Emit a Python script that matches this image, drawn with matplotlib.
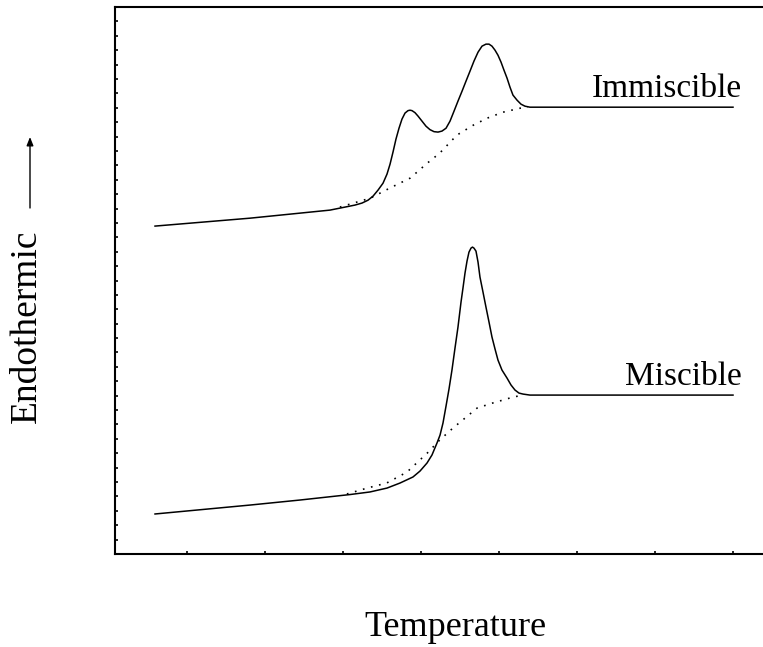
import matplotlib
matplotlib.use("Agg")
import matplotlib.pyplot as plt
import matplotlib.ticker as mpl_ticker
from matplotlib.patches import FancyArrowPatch

# DSC traces (arbitrary temperature / heat-flow units)
immiscible_t = [0.590, 1.808, 2.833, 3.026, 3.154, 3.244, 3.321, 3.385, 3.449, 3.513,
                3.564, 3.603, 3.641, 3.679, 3.718, 3.756, 3.795, 3.833, 3.859, 3.885,
                3.923, 3.962, 4.013, 4.064, 4.115, 4.167, 4.218, 4.269, 4.321, 4.372,
                4.423, 4.474, 4.526, 4.577, 4.628, 4.679, 4.731, 4.782, 4.833, 4.872,
                4.910, 4.949, 4.987, 5.026, 5.064, 5.103, 5.141, 5.179, 5.231, 5.282,
                5.333, 5.397, 5.782, 8.0]
immiscible_q = [22.78, 23.33, 23.89, 24.10, 24.24, 24.38, 24.58, 24.86, 25.28, 25.76,
                26.39, 27.08, 27.92, 28.82, 29.58, 30.21, 30.63, 30.80, 30.83, 30.80,
                30.66, 30.42, 30.07, 29.72, 29.48, 29.34, 29.31, 29.38, 29.58, 30.07,
                30.76, 31.46, 32.15, 32.85, 33.54, 34.24, 34.86, 35.28, 35.42, 35.42,
                35.28, 35.00, 34.65, 34.17, 33.61, 33.06, 32.43, 31.88, 31.53, 31.25,
                31.11, 31.04, 31.04, 31.04]
immiscible_base_t = [2.96, 3.35, 3.60, 3.86, 4.08, 4.24, 4.46, 4.67, 4.85, 5.05, 5.27, 5.37]
immiscible_base_q = [24.10, 24.72, 25.42, 26.11, 27.15, 27.85, 29.10, 29.79, 30.28, 30.69, 30.97, 31.04]

miscible_t = [0.590, 1.808, 2.449, 3.090, 3.346, 3.564, 3.731, 3.897, 3.987, 4.077,
              4.141, 4.205, 4.244, 4.282, 4.321, 4.359, 4.397, 4.436, 4.474, 4.513,
              4.538, 4.564, 4.590, 4.615, 4.641, 4.660, 4.679, 4.705, 4.731, 4.756,
              4.795, 4.833, 4.872, 4.910, 4.949, 4.987, 5.038, 5.103, 5.154, 5.205,
              5.256, 5.308, 5.397, 8.0]
miscible_q = [2.78, 3.40, 3.75, 4.13, 4.31, 4.58, 4.93, 5.35, 5.76, 6.32,
              6.88, 7.71, 8.26, 9.10, 10.28, 11.46, 12.78, 14.31, 15.76, 17.50,
              18.47, 19.51, 20.35, 20.97, 21.25, 21.32, 21.25, 21.04, 20.28, 19.24,
              18.19, 17.15, 16.11, 15.07, 14.24, 13.47, 12.78, 12.22, 11.74, 11.39,
              11.18, 11.11, 11.04, 11.04]
miscible_base_t = [3.05, 3.31, 3.56, 3.82, 4.08, 4.24, 4.41, 4.72, 4.92, 5.18, 5.31]
miscible_base_q = [4.17, 4.58, 4.93, 5.69, 7.01, 7.92, 8.75, 10.14, 10.49, 10.90, 11.04]

labels = ["Immiscible", "Miscible"]

serif = "Liberation Serif"

fig = plt.figure(figsize=(7.63, 6.47), dpi=100)
# axes run off the right edge, so no right spine is seen
ax = fig.add_axes([115 / 763, 93 / 647, 1 - 115 / 763, 547 / 647])

ax.plot(immiscible_t, immiscible_q, color="black", lw=1.1)
ax.plot(immiscible_base_t, immiscible_base_q, color="black", lw=1.2,
        linestyle=(0, (1, 4)))
ax.plot(miscible_t, miscible_q, color="black", lw=1.1)
ax.plot(miscible_base_t, miscible_base_q, color="black", lw=1.2,
        linestyle=(0, (1, 4)))

for t, q, name in [(immiscible_t, immiscible_q, labels[0]),
                   (miscible_t, miscible_q, labels[1])]:
    ax.annotate(name, xy=(t[-1], q[-1]), xytext=(6.5, 7.2),
                textcoords="offset points", ha="right", va="baseline",
                fontsize=24, family=serif)

ax.set_xlim(6 / 78, (763 - 109) / 78)
ax.set_ylim(0, 38)
ax.xaxis.set_major_locator(mpl_ticker.MultipleLocator(1))
ax.yaxis.set_major_locator(mpl_ticker.MultipleLocator(1))
ax.tick_params(direction="in", length=2.5, width=1.2,
               labelbottom=False, labelleft=False)
ax.tick_params(top=False, right=False)
ax.spines["right"].set_visible(False)
for side in ["left", "bottom", "top"]:
    ax.spines[side].set_linewidth(1.5)

fig.text(455 / 763, 1 - 628 / 647, "Temperature", ha="center", va="center",
         fontsize=26, family=serif)
fig.text(27 / 763, 1 - 326 / 647, "Endothermic", ha="center", va="center",
         rotation=90, fontsize=27, family=serif)
fig.add_artist(FancyArrowPatch(
    (30 / 763, 1 - 208 / 647), (30 / 763, 1 - 137 / 647),
    transform=fig.transFigure, arrowstyle="-|>,head_length=5,head_width=2",
    color="black", lw=1.0, shrinkA=0, shrinkB=0))

fig.savefig("out.png", dpi=100)
